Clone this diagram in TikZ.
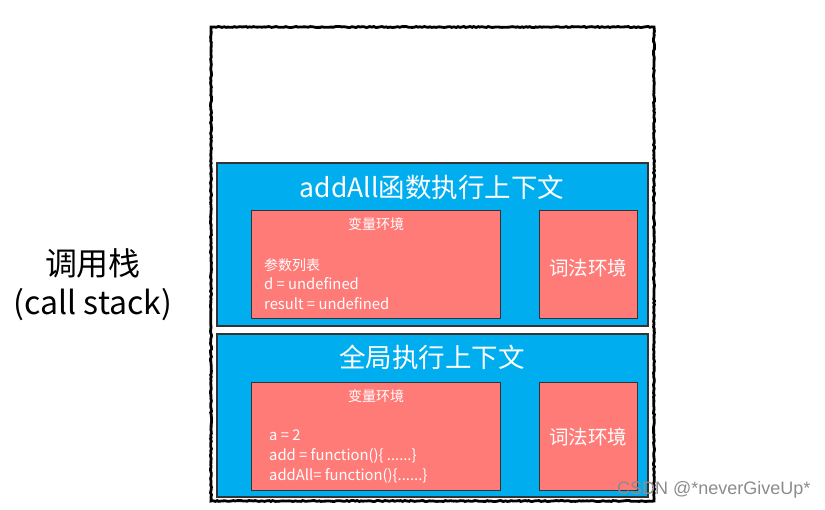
\documentclass[tikz,border=0pt]{standalone}
\usepackage{fontspec}
\setmainfont{Noto Sans CJK SC}
\newfontfamily\wmfont{Liberation Sans}
\usetikzlibrary{decorations.pathmorphing}
\definecolor{ctxblue}{HTML}{00AEEF}
\definecolor{envred}{HTML}{FF7B78}
\definecolor{edgegray}{HTML}{333333}
\tikzset{
  x=1pt, y=-1pt,
  stackbox/.style={draw=black, line width=2.8pt, fill=white, decorate, decoration={random steps, segment length=2pt, amplitude=0.5pt}},
  ctxbox/.style={draw=edgegray, line width=1.4pt, fill=ctxblue},
  envbox/.style={draw=edgegray, line width=0.9pt, fill=envred},
  ctxtitle/.style={text=white, font=\fontsize{26.5}{28}\selectfont, inner sep=0pt},
  envtitle/.style={text=white, font=\fontsize{14}{15}\selectfont, inner sep=0pt},
  lexlabel/.style={text=white, font=\fontsize{19.5}{21}\selectfont, inner sep=0pt},
  codeline/.style={text=white, font=\fontsize{14.8}{16}\selectfont, inner sep=0pt, anchor=west},
  sidelabel/.style={text=black, font=\fontsize{32}{34}\selectfont, inner sep=0pt},
}
\begin{document}
\begin{tikzpicture}
\useasboundingbox (0,0) rectangle (825,510);
\fill[white] (0,0) rectangle (825,510);
% outer call stack
\path[stackbox] (211,27) rectangle (654,501);
% top context
\draw[ctxbox] (217,163) rectangle (648,326);
\node[ctxtitle] (t1) at (432,187) {addAll函数执行上下文};
\draw[envbox] (251,210) rectangle (500,318);
\node[envtitle] (v1) at (376,224) {变量环境};
\node[codeline, font=\fontsize{14}{15}\selectfont] (p1) at (264,265) {参数列表};
\node[codeline] (d1) at (264,284) {d = undefined};
\node[codeline] (r1) at (264,304) {result = undefined};
\draw[envbox] (539,210) rectangle (637,318);
\node[lexlabel] (l1) at (588,268) {词法环境};
% bottom context
\draw[ctxbox] (217,334) rectangle (648,497);
\node[ctxtitle] (t2) at (432,357) {全局执行上下文};
\draw[envbox] (251,382) rectangle (500,490);
\node[envtitle] (v2) at (376,396) {变量环境};
\node[codeline] (a2) at (269,435) {a = 2};
\node[codeline] (b2) at (269,456) {add = function()\{ ......\}};
\node[codeline] (c2) at (269,476) {addAll= function()\{......\}};
\draw[envbox] (539,382) rectangle (637,490);
\node[lexlabel] (l2) at (588,437) {词法环境};
% side label
\node[sidelabel] (s1) at (93,263) {调用栈};
\node[sidelabel] (s2) at (93,305) {(call stack)};
% watermark
\node[text=black!45, font=\wmfont\fontsize{18}{20}\selectfont, inner sep=0pt, anchor=west] (wm) at (617,490) {CSDN @*neverGiveUp*};
\end{tikzpicture}
\end{document}
